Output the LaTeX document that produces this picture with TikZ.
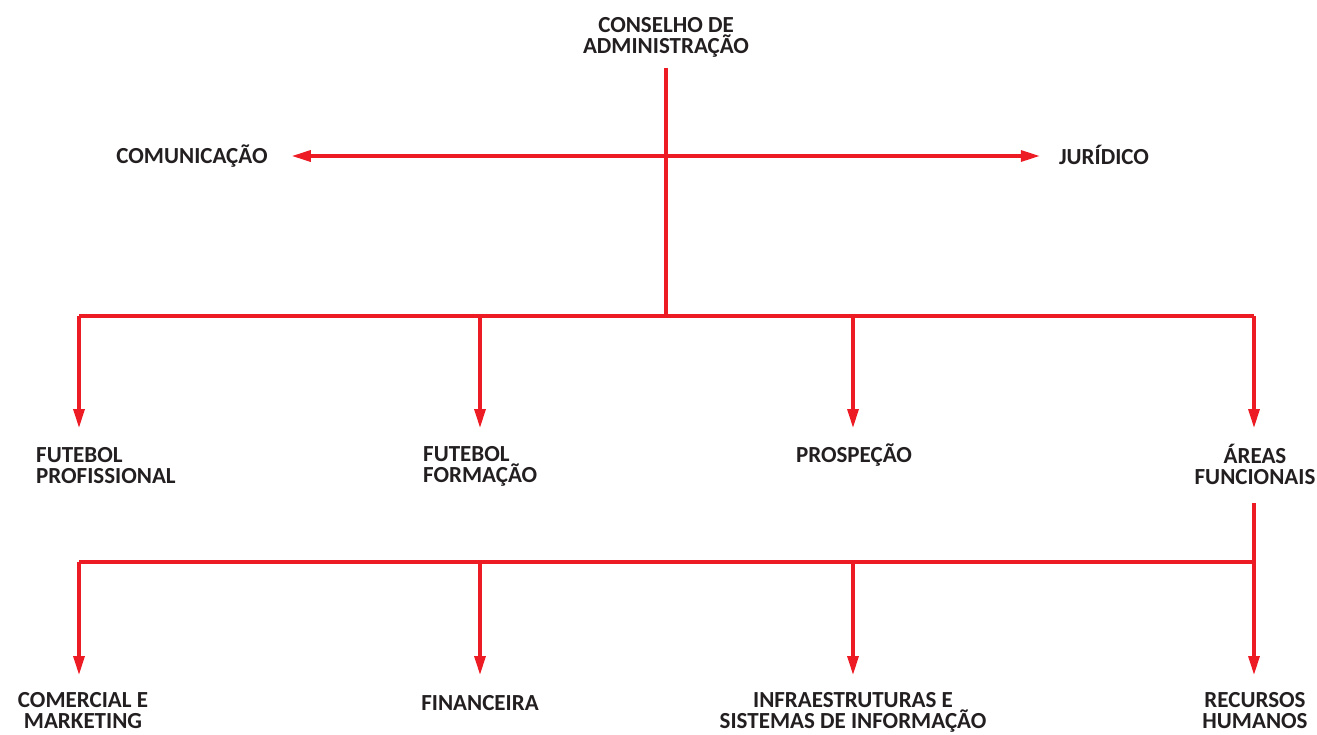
\documentclass[tikz,border=0pt]{standalone}
\usepackage{fontspec}
\setmainfont{Carlito}
\usetikzlibrary{arrows.meta}
\definecolor{orgred}{HTML}{ED1C24}
\definecolor{orgtext}{HTML}{231F20}
\begin{document}
\begin{tikzpicture}[x=1pt,y=-1pt,
  lbl/.style={font=\fontsize{23}{21}\selectfont\bfseries, text=orgtext, inner sep=0pt, align=center},
  lbll/.style={lbl, align=left},
  link/.style={draw=orgred, line width=3.2pt},
  arr/.style={link, -{Triangle[length=19pt,width=11pt]}}]
\useasboundingbox (0,0) rectangle (1317,734);
% level 0
\node[lbl] (cons) at (666,37.5) {CONSELHO DE\\ADMINISTRAÇÃO};
\node[lbl] (com) at (192,156) {COMUNICAÇÃO};
\node[lbl] (jur) at (1104,155) {JURÍDICO};
% level 1
\node[lbll, anchor=west] (fp) at (36,466) {FUTEBOL\\PROFISSIONAL};
\node[lbll, anchor=west] (ff) at (423,466) {FUTEBOL\\FORMAÇÃO};
\node[lbl] (pro) at (854,455) {PROSPEÇÃO};
\node[lbl] (af) at (1255,464) {ÁREAS\\FUNCIONAIS};
% level 2
\node[lbl] (cm) at (83,711) {COMERCIAL E\\MARKETING};
\node[lbl] (fin) at (480,703) {FINANCEIRA};
\node[lbl] (inf) at (853,712) {INFRAESTRUTURAS E\\SISTEMAS DE INFORMAÇÃO};
\node[lbl] (rh) at (1255,711) {RECURSOS\\HUMANOS};
% junctions
\coordinate (top) at (666,68);
\coordinate (m) at (666,156);
\coordinate (j1) at (666,316);
\coordinate (b1a) at (79,316);
\coordinate (b1b) at (480,316);
\coordinate (b1c) at (853,316);
\coordinate (b1d) at (1254,316);
\coordinate (afb) at (1254,503);
\coordinate (j2) at (1254,562);
\coordinate (b2a) at (79,562);
\coordinate (b2b) at (480,562);
\coordinate (b2c) at (853,562);
% connectors
\draw[link] (top) -- (j1);
\draw[arr, shorten >=24pt] (m) -- (m -| com.east);
\draw[arr, shorten >=19pt] (m) -- (m -| jur.west);
\draw[link] (b1a) -- (b1d);
\draw[arr] (b1a) -- (79,428);
\draw[arr] (b1b) -- (480,428);
\draw[arr] (b1c) -- (853,428);
\draw[arr] (b1d) -- (1254,428);
\draw[link] (afb) -- (j2);
\draw[link] (b2a) -- (j2);
\draw[arr] (b2a) -- (79,675);
\draw[arr] (b2b) -- (480,675);
\draw[arr] (b2c) -- (853,675);
\draw[arr] (j2) -- (1254,675);
\end{tikzpicture}
\end{document}
